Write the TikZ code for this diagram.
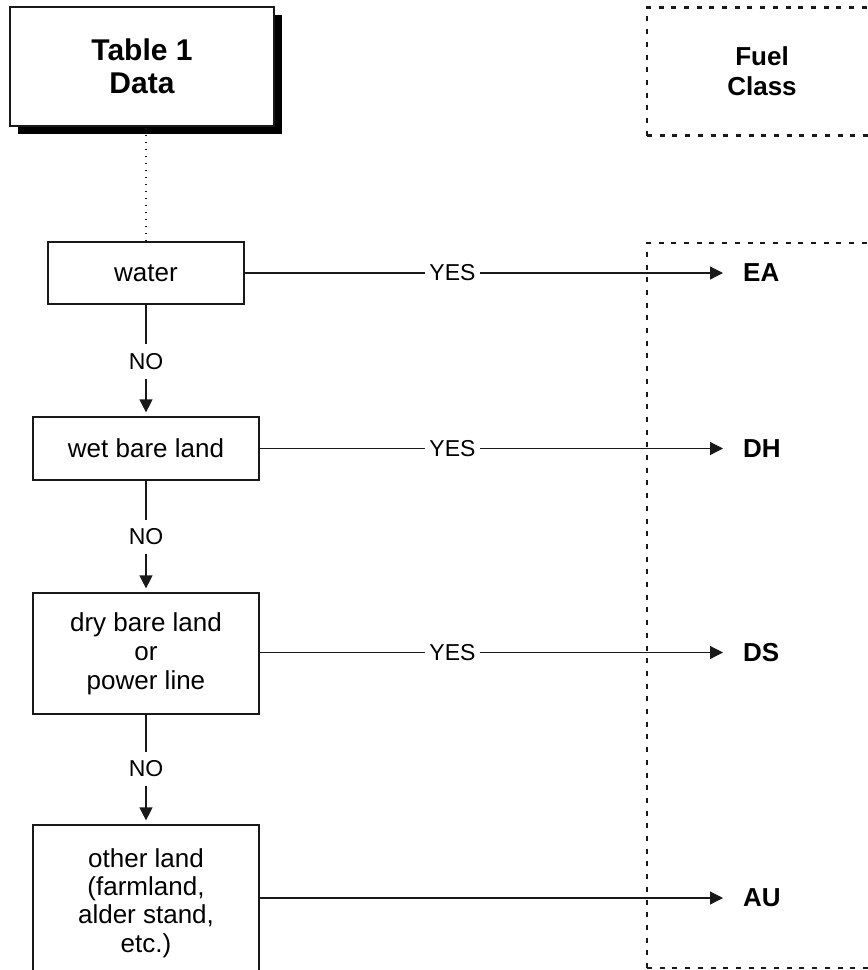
\documentclass[tikz,border=0pt]{standalone}
\usepackage{fontspec}
\setmainfont{Liberation Sans}
\usetikzlibrary{arrows.meta, shapes, positioning, shadows}

\tikzset{
  every node/.style={font=\fontsize{26}{29.2}\selectfont},
  box/.style={draw=black!90, line width=1.2pt, align=center, inner sep=0pt},
  title/.style={box, fill=white, font=\fontsize{30}{33}\selectfont\bfseries,
    drop shadow={shadow xshift=8pt, shadow yshift=-8pt, fill=black, opacity=1}},
  classbox/.style={draw=black!90, line width=2.6pt, dash pattern=on 5pt off 7.7pt,
    align=center, font=\fontsize{26}{30}\selectfont\bfseries},
  fuel/.style={font=\fontsize{26}{29.5}\selectfont\bfseries, anchor=west, inner xsep=20pt},
  answer/.style={font=\fontsize{23}{26}\selectfont, inner xsep=4pt, inner ysep=9pt},
  flow/.style={color=black!90, line width=1.2pt},
  tip/.style={-{Triangle[length=13pt,width=13pt]}}
}

\begin{document}
\begin{tikzpicture}[x=1pt, y=-1pt]
        \useasboundingbox (0,0) rectangle (868,970);

        % fuel class column
        \node[classbox, minimum width=230pt, minimum height=128pt] (fuelclass) at (762,71.5) {Fuel\\Class};
        \node[classbox, minimum width=230pt, minimum height=725pt] (classcol) at (762,605.5) {};

        % decision boxes
        \node[title, minimum width=264pt, minimum height=119pt] (tab) at (142,66.5) {Table 1\\Data};
        \node[box, minimum width=196pt, minimum height=62pt] (water) at (146,273) {water};
        \node[box, minimum width=226pt, minimum height=63pt] (wet) at (146,448.5) {wet bare land};
        \node[box, minimum width=226pt, minimum height=121pt] (dry) at (146,653.5) {dry bare land\\or\\power line};
        \node[box, minimum width=226pt, minimum height=156pt, font=\fontsize{26}{28.3}\selectfont] (other) at (146,903) {other land\\(farmland,\\alder stand,\\etc.)};

        \node[answer] (no1) at (146,361.5) {NO};
        \node[answer] (no2) at (146,537) {NO};
        \node[answer] (no3) at (146,769) {NO};

        \node[answer] (yes1) at (452.5,273) {YES};
        \node[answer] (yes2) at (452.5,448.5) {YES};
        \node[answer] (yes3) at (452.5,652.5) {YES};

        \node[fuel] (ea) at (723,273) {EA};
        \node[fuel] (dh) at (723,448.5) {DH};
        \node[fuel] (ds) at (723,652.5) {DS};
        \node[fuel] (au) at (723,898) {AU};

        \draw[flow, dash pattern=on 1.8pt off 5.2pt, line width=1.6pt] (water.north) -- (water.north |- tab.south);

          \path[flow] (water) edge (yes1)
                      (wet) edge (yes2)
                      (dry.east |- yes3) edge (yes3)
                      (water) edge (no1)
                      (wet) edge (no2)
                      (dry) edge (no3);
          \path[flow, tip] (yes1) edge (ea)
                           (yes2) edge (dh)
                           (yes3) edge (ds)
                           (other.east |- au) edge (au);
          \path[flow, tip, shorten >=4pt] (no1) edge (wet)
                                          (no2) edge (dry)
                                          (no3) edge (other);
    \end{tikzpicture}
\end{document}
